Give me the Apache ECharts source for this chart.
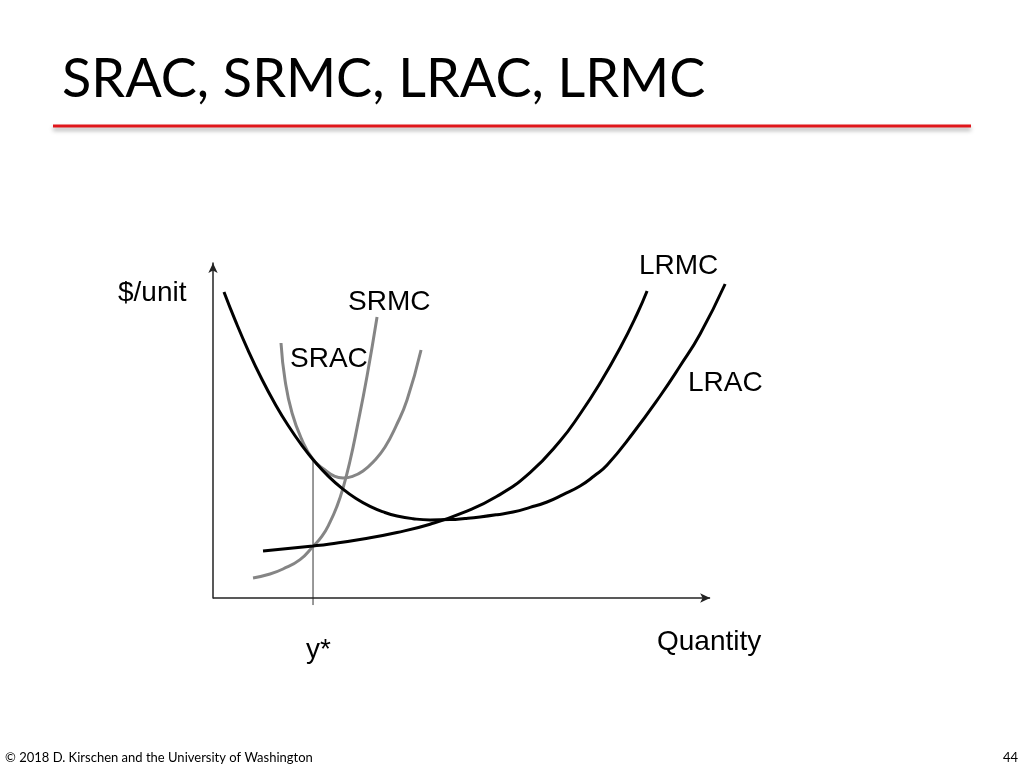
<!DOCTYPE html>
<html>
<head>
<meta charset="utf-8">
<script src="https://cdn.jsdelivr.net/npm/echarts@6/dist/echarts.min.js"></script>
<style>
html,body{margin:0;padding:0;background:#fff;}
#c{width:1024px;height:768px;}
</style>
</head>
<body>
<div id="c"></div>
<script>
// Quantity (0-100 along the drawn x axis) and $/unit (0-100 along y axis)
const lracX = [2.21, 4.43, 7.04, 9.86, 12.47, 15.09, 17.91, 20.52, 23.14, 25.96, 28.77, 31.59, 34.41, 37.02, 40.24, 43.66, 47.69, 50.70, 53.72, 57.14, 60.36, 63.78, 67.20, 70.42, 73.84, 76.66, 79.28, 84.51, 89.94, 93.96, 97.99, 103.02];
const lracY = [91.34, 83.01, 74.00, 65.22, 58.00, 51.55, 45.49, 40.63, 36.45, 32.72, 29.70, 27.34, 25.61, 24.48, 23.67, 23.31, 23.40, 23.73, 24.18, 24.87, 25.67, 27.04, 28.66, 30.87, 33.43, 36.42, 39.70, 49.25, 60.30, 69.25, 78.81, 93.73];

const lrmcX = [10.06, 20.12, 23.54, 30.18, 37.02, 43.66, 50.30, 57.14, 63.78, 69.82, 73.84, 77.87, 81.89, 85.31, 87.32];
const lrmcY = [14.03, 15.52, 16.12, 17.61, 19.55, 22.03, 25.49, 30.36, 37.46, 46.87, 54.93, 64.18, 74.63, 84.78, 91.64];

const sracX = [13.68, 14.49, 15.90, 17.91, 20.12, 22.54, 24.35, 26.16, 28.17, 30.18, 32.39, 34.61, 36.82, 39.03, 41.85];
const sracY = [76.12, 65.07, 55.22, 47.16, 41.34, 38.21, 36.42, 35.82, 36.36, 37.91, 40.87, 45.07, 51.34, 59.10, 74.03];

const srmcX = [8.05, 11.47, 14.08, 17.51, 20.12, 21.93, 23.54, 24.95, 26.16, 27.57, 28.97, 30.99, 33.00];
const srmcY = [5.97, 7.16, 8.66, 11.46, 15.40, 18.45, 22.63, 27.43, 32.81, 40.96, 50.78, 66.30, 83.88];

const yStarX = [20.12, 20.12];
const yStarY = [41.34, -2.1];

const axisEnd = 100;

const zip = (xs, ys) => xs.map((x, i) => [x, ys[i]]);

const chart = echarts.init(document.getElementById('c'));
const black = '#000000';
const gray = '#858585';
const lblFont = '"Liberation Sans", Arial, sans-serif';

function txt(text, x, y, size, font, color) {
  return {
    type: 'text', left: x, top: y,
    style: { text: text, fontSize: size, fontFamily: font, fill: color || '#000' }
  };
}

chart.setOption({
  animation: false,
  backgroundColor: '#ffffff',
  grid: { left: 213, top: 263, width: 517, height: 335 },
  xAxis: {
    type: 'value', min: 0, max: 104,
    axisLine: { show: false },
    axisTick: { show: false }, axisLabel: { show: false }, splitLine: { show: false }
  },
  yAxis: {
    type: 'value', min: 0, max: 100,
    axisLine: { show: true, symbol: ['none', 'arrow'], symbolSize: [7, 10], lineStyle: { color: '#222', width: 1.5 } },
    axisTick: { show: false }, axisLabel: { show: false }, splitLine: { show: false }
  },
  series: [
    { name: 'y*', type: 'line', data: zip(yStarX, yStarY), clip: false, symbol: 'none',
      lineStyle: { color: '#333', width: 1 },
      markLine: {
        silent: true, symbol: ['none', 'arrow'], symbolSize: [7, 10],
        label: { show: false },
        lineStyle: { color: '#222', width: 1.5, type: 'solid' },
        data: [[{ coord: [0, 0] }, { coord: [axisEnd, 0] }]]
      } },
    { name: 'SRMC', type: 'line', data: zip(srmcX, srmcY), smooth: true, clip: false, symbol: 'none',
      lineStyle: { color: gray, width: 3 } },
    { name: 'SRAC', type: 'line', data: zip(sracX, sracY), smooth: true, clip: false, symbol: 'none',
      lineStyle: { color: gray, width: 3 } },
    { name: 'LRAC', type: 'line', data: zip(lracX, lracY), smooth: true, clip: false, symbol: 'none',
      lineStyle: { color: black, width: 3 } },
    { name: 'LRMC', type: 'line', data: zip(lrmcX, lrmcY), smooth: true, clip: false, symbol: 'none',
      lineStyle: { color: black, width: 3 } }
  ],
  graphic: [
    txt('SRAC, SRMC, LRAC, LRMC', 62, 53, 54, 'Lato, "Open Sans", sans-serif', '#000'),
    { type: 'line', shape: { x1: 53, y1: 126, x2: 971, y2: 126 },
      style: { stroke: '#e0161b', lineWidth: 3, shadowBlur: 4, shadowOffsetY: 3, shadowColor: 'rgba(0,0,0,0.35)' } },
    txt('$/unit', 118, 279, 28, lblFont),
    txt('SRMC', 348, 288, 28, lblFont),
    txt('SRAC', 290, 345, 28, lblFont),
    txt('LRMC', 639, 252, 28, lblFont),
    txt('LRAC', 688, 369, 28, lblFont),
    txt('y*', 306, 636, 28, lblFont),
    txt('Quantity', 657, 628, 28, lblFont),
    txt('© 2018 D. Kirschen and the University of Washington', 5, 751, 13, 'Lato, sans-serif', '#000'),
    txt('44', 1003, 751, 13, 'Lato, sans-serif', '#000')
  ]
});
</script>
</body>
</html>
